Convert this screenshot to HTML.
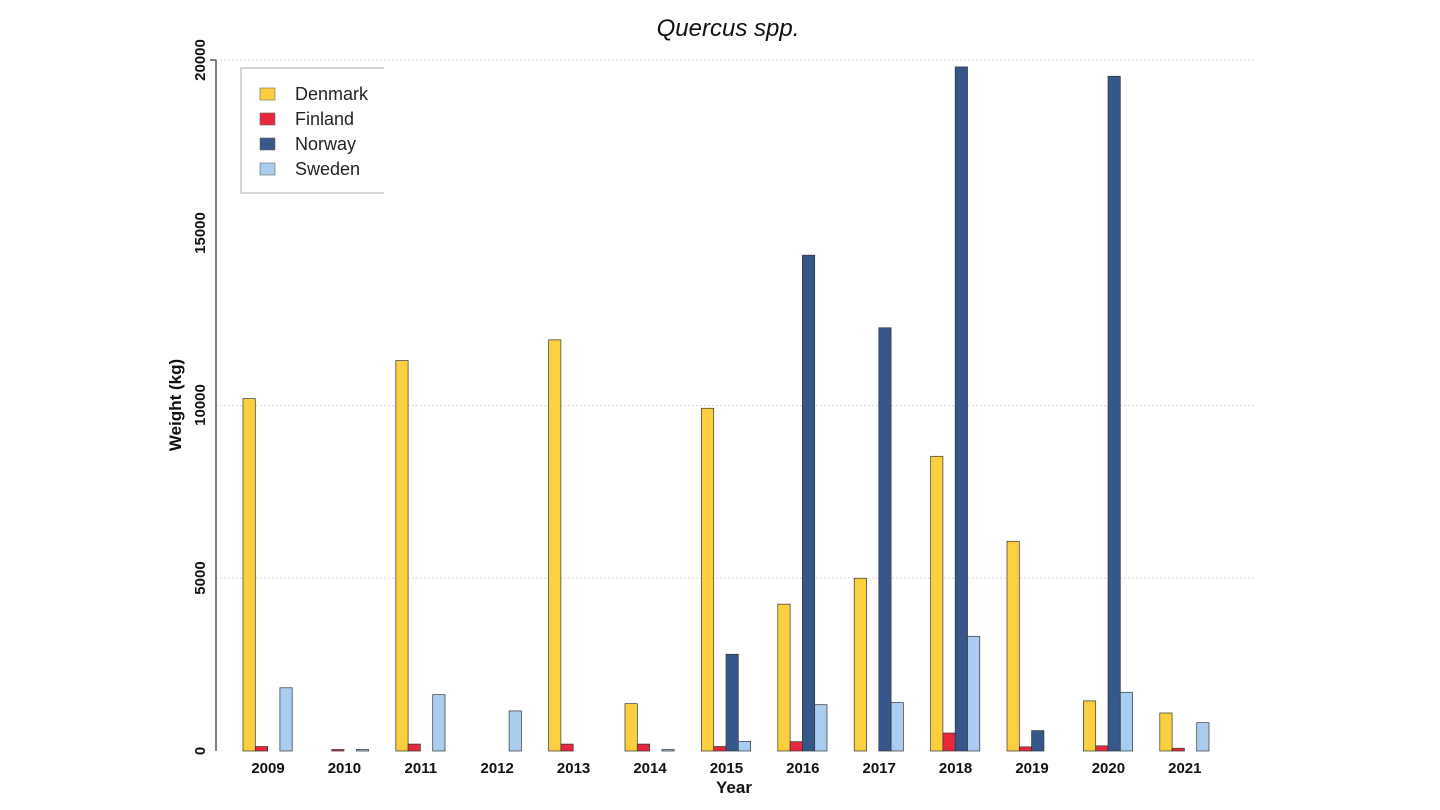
<!DOCTYPE html>
<html><head><meta charset="utf-8"><style>
html,body{margin:0;padding:0;background:#fff;}
svg{display:block;font-family:"Liberation Sans",sans-serif;}
</style></head><body>
<svg id="c" width="1440" height="810" xmlns="http://www.w3.org/2000/svg">
<rect width="1440" height="810" fill="#fff"/>
<text x="728" y="36" font-size="24" font-style="italic" text-anchor="middle" fill="#111">Quercus spp.</text>
<g stroke="#d8d8d8" stroke-width="1" stroke-dasharray="2,2">
<line x1="216" y1="60" x2="1255" y2="60"/>
<line x1="216" y1="405.5" x2="1255" y2="405.5"/>
<line x1="216" y1="578" x2="1255" y2="578"/>
</g>
<line x1="216" y1="60" x2="216" y2="751" stroke="#555" stroke-width="1.5"/>
<line x1="210" y1="60" x2="216" y2="60" stroke="#555" stroke-width="1.5"/>
<g font-size="15" font-weight="bold" fill="#111" text-anchor="middle">
<text transform="translate(205,60) rotate(-90)">20000</text>
<text transform="translate(205,233) rotate(-90)">15000</text>
<text transform="translate(205,405) rotate(-90)">10000</text>
<text transform="translate(205,578) rotate(-90)">5000</text>
<text transform="translate(205,751) rotate(-90)">0</text>
<text transform="translate(181,405) rotate(-90)" font-size="17">Weight (kg)</text>
<text x="734" y="793" font-size="17">Year</text>
</g>
<g id="bars"></g>
<g id="xl" font-size="15" font-weight="bold" fill="#111" text-anchor="middle"></g>
<path d="M384,68 H241 V193 H384" fill="#fff" stroke="#bbb" stroke-width="1.2"/>
<g font-size="18" fill="#222">
<rect x="260" y="88" width="15" height="12" fill="#fccf3f" stroke="#666" stroke-width="0.6"/><text x="295" y="100">Denmark</text>
<rect x="260" y="113" width="15" height="12" fill="#e8283c" stroke="#666" stroke-width="0.6"/><text x="295" y="125">Finland</text>
<rect x="260" y="138" width="15" height="12" fill="#36578a" stroke="#666" stroke-width="0.6"/><text x="295" y="150">Norway</text>
<rect x="260" y="163" width="15" height="12" fill="#a9cdf0" stroke="#666" stroke-width="0.6"/><text x="295" y="175">Sweden</text>
</g>
</svg>
<script>
var d=[[10200,130,0,1830],[0,40,0,40],[11300,200,0,1630],[0,0,0,1160],[11900,200,0,0],[1370,200,0,20],[9920,130,2800,280],[4250,270,14350,1340],[5000,0,12250,1400],[8530,520,19800,3320],[6070,120,590,0],[1450,150,19530,1700],[1100,80,0,820]];
var col=["#fccf3f","#e8283c","#36578a","#a9cdf0"];
var ns="http://www.w3.org/2000/svg",g=document.getElementById("bars"),xl=document.getElementById("xl");
for(var i=0;i<d.length;i++){var x0=243+i*76.4;
for(var j=0;j<4;j++){var v=d[i][j];if(v<=0)continue;var h=v*0.03455;if(h<1.5)h=1.5;
var r=document.createElementNS(ns,"rect");r.setAttribute("x",x0+j*12.3);r.setAttribute("y",751-h);r.setAttribute("width",12.3);r.setAttribute("height",h);r.setAttribute("fill",col[j]);r.setAttribute("stroke","#333");r.setAttribute("stroke-width","0.7");g.appendChild(r);}
var t=document.createElementNS(ns,"text");t.setAttribute("x",x0+25);t.setAttribute("y",773);t.textContent=2009+i;xl.appendChild(t);}
</script>
</body></html>
